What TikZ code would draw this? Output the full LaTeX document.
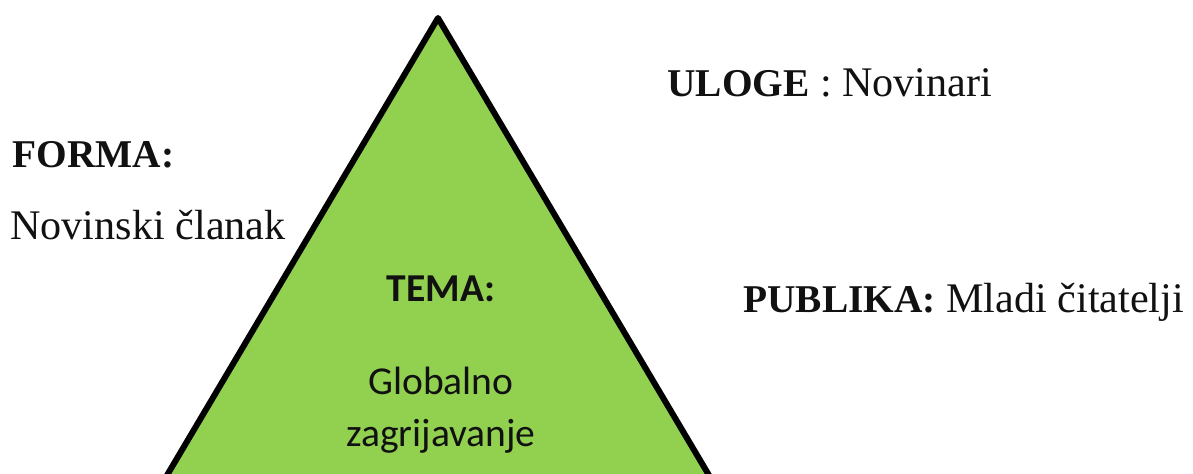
\documentclass[tikz,border=0pt]{standalone}
\usepackage{fontspec}
\setmainfont{Liberation Serif}
\newfontfamily\themefont{Carlito}
\usetikzlibrary{positioning}
\definecolor{pyr-fill}{HTML}{92D050}
\definecolor{pyr-border}{HTML}{000000}
\definecolor{label-text}{HTML}{111111}
\newcommand{\keyword}[1]{{\bfseries\fontsize{22.4}{26}\selectfont #1}}
\tikzset{
  pyr-edge/.style={
    draw=pyr-border, fill=pyr-fill, line width=0.12cm, line join=round
  },
  side-label/.style={
    anchor=base west, inner sep=0pt, text=label-text,
    font=\fontsize{24}{28}\selectfont
  },
  theme-label/.style={
    anchor=base, inner sep=0pt, text=label-text,
    font=\themefont\fontsize{22.5}{26}\selectfont
  }
}

\begin{document}
\begin{tikzpicture}

  % ---- Frame ---------------------------------------------------------------
  \useasboundingbox (0,0) rectangle (23.86,-9.48);
  \clip (0,0) rectangle (23.86,-9.48);

  % ---- Pyramid -------------------------------------------------------------
  \coordinate (apex)  at (8.76, -0.36);
  \coordinate (baseL) at (2.81, -10.40);
  \coordinate (baseR) at (14.71, -10.40);
  \path[pyr-edge] (apex) -- (baseR) -- (baseL) -- cycle;

  % ---- Theme inside the pyramid --------------------------------------------
  \node[theme-label, font=\themefont\bfseries\fontsize{22.5}{26}\selectfont]
        (tema) at (8.82, -6.04) {TEMA:};
  \node[theme-label] (globalno) at (8.82, -7.90) {Globalno};
  \node[theme-label] (zagrij)   at (8.82, -8.94) {zagrijavanje};

  % ---- Side labels ---------------------------------------------------------
  \node[side-label] (forma)   at (0.24, -3.36) {\keyword{FORMA:}};
  \node[side-label] (clanak)  at (0.20, -4.80) {Novinski članak};
  \node[side-label] (uloge)   at (13.34, -1.94) {\keyword{ULOGE} : Novinari};
  \node[side-label] (publika) at (14.86, -6.26) {\keyword{PUBLIKA:} Mladi čitatelji};

\end{tikzpicture}
\end{document}
